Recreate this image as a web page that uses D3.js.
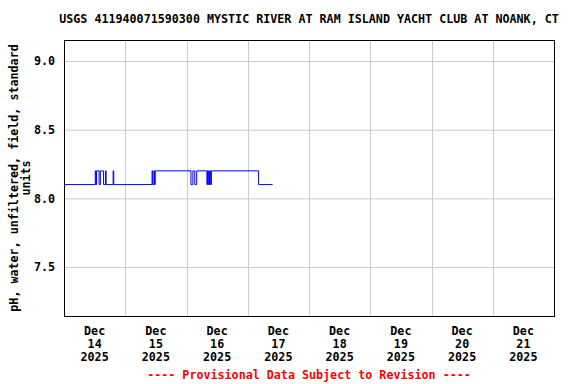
<!DOCTYPE html>
<html>
<head>
<meta charset="utf-8">
<script src="https://cdn.jsdelivr.net/npm/d3@7"></script>
<style>
  body { margin: 0; background: #fff; }
  text { font-family: "DejaVu Sans Mono", monospace; font-weight: bold; font-size: 11.7px; fill: #000; }
</style>
</head>
<body>
<div id="chart"></div>
<script>
var title = 'USGS 411940071590300 MYSTIC RIVER AT RAM ISLAND YACHT CLUB AT NOANK, CT';
var yLabel = ['pH, water, unfiltered, field, standard', 'units'];
var footer = '---- Provisional Data Subject to Revision ----';
var yTicks = [7.5, 8.0, 8.5, 9.0];
var dayTicks = ['2025-12-14', '2025-12-15', '2025-12-16', '2025-12-17', '2025-12-18', '2025-12-19', '2025-12-20', '2025-12-21'];

// change points of the 15-minute record (value holds until next time)
var times = [
  '2025-12-14 00:00', '2025-12-14 12:15', '2025-12-14 12:30', '2025-12-14 12:45', '2025-12-14 13:45',
  '2025-12-14 14:15', '2025-12-14 15:30', '2025-12-14 16:15', '2025-12-14 16:30',
  '2025-12-14 19:15', '2025-12-14 19:30',
  '2025-12-15 10:30', '2025-12-15 10:45', '2025-12-15 11:15', '2025-12-15 11:30', '2025-12-15 11:45',
  '2025-12-16 01:45', '2025-12-16 02:30', '2025-12-16 03:15', '2025-12-16 04:00',
  '2025-12-16 08:00', '2025-12-16 08:15', '2025-12-16 08:30', '2025-12-16 08:45', '2025-12-16 09:00',
  '2025-12-16 09:15', '2025-12-16 09:30', '2025-12-16 09:45',
  '2025-12-17 04:15', '2025-12-17 09:45'
];
var values = [
  8.1, 8.2, 8.1, 8.2, 8.1,
  8.2, 8.1, 8.2, 8.1,
  8.2, 8.1,
  8.2, 8.1, 8.2, 8.1, 8.2,
  8.1, 8.2, 8.1, 8.2,
  8.1, 8.2, 8.1, 8.2, 8.1,
  8.2, 8.1, 8.2,
  8.1, 8.1
];

var width = 576, height = 384;
var margin = { top: 40, right: 22, bottom: 68, left: 64 };
var chartWidth = width - margin.left - margin.right,
    chartHeight = height - margin.top - margin.bottom;

var parseTime = d3.timeParse('%Y-%m-%d %H:%M');
var parseDay = d3.timeParse('%Y-%m-%d');
var data = times.map(function (t, i) {
  return { date: parseTime(t), value: values[i] };
});

var x = d3.scaleTime()
  .domain([parseDay('2025-12-14'), parseDay('2025-12-22')])
  .range([0, chartWidth]);
var y = d3.scaleLinear()
  .domain([7.143, 9.153])
  .range([chartHeight, 0]);

var svg = d3.select('#chart').append('svg')
  .attr('width', width)
  .attr('height', height);

svg.append('text')
  .attr('x', 309)
  .attr('y', 23)
  .attr('text-anchor', 'middle')
  .text(title);

var g = svg.append('g')
  .attr('transform', 'translate(' + margin.left + ',' + margin.top + ')');

// gridlines
var days = dayTicks.map(parseDay);
g.append('g')
  .selectAll('line')
  .data(days.slice(1))
  .enter().append('line')
  .attr('x1', function (d) { return Math.round(x(d)) + 0.5; })
  .attr('x2', function (d) { return Math.round(x(d)) + 0.5; })
  .attr('y1', 0)
  .attr('y2', chartHeight)
  .attr('stroke', '#cccccc');

var yAxis = d3.axisLeft(y)
  .tickValues(yTicks)
  .tickFormat(d3.format('.1f'))
  .tickSizeInner(-chartWidth)
  .tickSizeOuter(0)
  .tickPadding(9);
var yg = g.append('g').call(yAxis);
yg.select('.domain').remove();
yg.selectAll('.tick line').attr('stroke', '#cccccc');
yg.selectAll('.tick text').attr('font-size', null).attr('font-family', null);

// data line
var line = d3.line()
  .curve(d3.curveStepAfter)
  .x(function (d) { return x(d.date); })
  .y(function (d) { return y(d.value); });
g.append('path')
  .datum(data)
  .attr('d', line)
  .attr('fill', 'none')
  .attr('stroke', '#0000ff')
  .attr('stroke-width', 1);

// frame
g.append('rect')
  .attr('x', 0.5)
  .attr('y', 0.5)
  .attr('width', chartWidth)
  .attr('height', chartHeight)
  .attr('fill', 'none')
  .attr('stroke', '#000')
  .attr('stroke-width', 1);

// x labels at noon of each day
var fmtMon = d3.timeFormat('%b'), fmtDay = d3.timeFormat('%d'), fmtYear = d3.timeFormat('%Y');
var xl = g.append('g')
  .attr('transform', 'translate(0,' + chartHeight + ')')
  .selectAll('text')
  .data(days)
  .enter().append('text')
  .attr('text-anchor', 'middle')
  .attr('transform', function (d) { return 'translate(' + x(d3.timeHour.offset(d, 12)) + ',0)'; });
[fmtMon, fmtDay, fmtYear].forEach(function (f, i) {
  xl.append('tspan')
    .attr('x', 0)
    .attr('y', 19 + i * 13)
    .text(function (d) { return f(d); });
});

// y axis title
var yt = svg.append('text')
  .attr('text-anchor', 'middle')
  .attr('transform', 'translate(0,' + (margin.top + chartHeight / 2) + ') rotate(-90)');
yLabel.forEach(function (s, i) {
  yt.append('tspan')
    .attr('x', 0)
    .attr('y', 18 + i * 12)
    .text(s);
});

svg.append('text')
  .attr('x', 309)
  .attr('y', 379)
  .attr('text-anchor', 'middle')
  .style('fill', '#ff0000')
  .text(footer);
</script>
</body>
</html>
